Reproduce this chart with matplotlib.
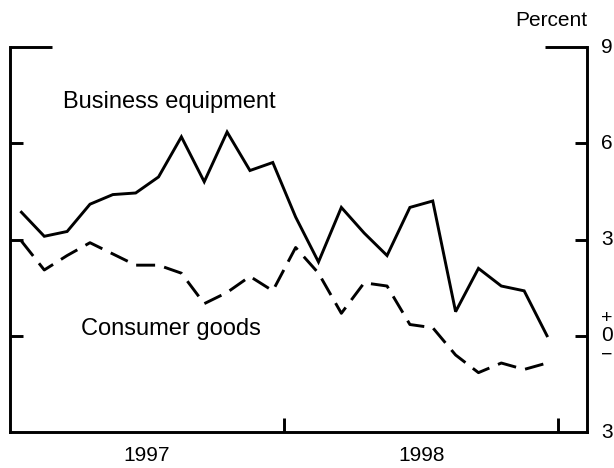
import matplotlib
matplotlib.use("Agg")
import matplotlib.pyplot as plt
import matplotlib.transforms as mtransforms

plt.rcParams["font.family"] = ["Liberation Sans", "DejaVu Sans"]

# monthly series, Jan 1997 .. Dec 1998 (percent)
months = list(range(24))
business = [3.85, 3.1, 3.25, 4.1, 4.4, 4.45, 4.95, 6.2, 4.8, 6.35, 5.15, 5.4,
            3.7, 2.3, 4.0, 3.2, 2.5, 4.0, 4.2, 0.75, 2.1, 1.55, 1.4, 0.0]
consumer = [2.95, 2.05, 2.5, 2.9, 2.55, 2.2, 2.2, 1.95, 1.0, 1.35, 1.85, 1.4,
            2.75, 1.95, 0.7, 1.65, 1.55, 0.35, 0.25, -0.6, -1.15, -0.85, -1.05, -0.85]
years = ["1997", "1998"]
year_centers = [5.5, 17.5]
year_bounds = [11.5, 23.5]
right_ticks = [9, 6, 3, 0, -3]
right_labels = ["9", "6", "3", "0", "3"]

LW = 2.1

fig = plt.figure(figsize=(6.14, 4.68), dpi=100)
ax = fig.add_axes([10 / 614, 36 / 468, 577 / 614, 385 / 468])

ax.plot(months, business, color="black", lw=LW, solid_joinstyle="miter")
ax.plot(months, consumer, color="black", lw=LW, dashes=(6.5, 3.2))

ax.set_xlim(-0.5, 24.75)
ax.set_ylim(-3, 9)

for s in ["left", "right", "bottom"]:
    ax.spines[s].set_linewidth(LW)
ax.spines["top"].set_visible(False)

ax.set_yticks([0, 3, 6])
ax.set_yticks([9], minor=True)
ax.tick_params(axis="y", which="major", left=True, right=True, direction="in",
               length=9, width=LW, labelleft=False, labelright=False)
ax.tick_params(axis="y", which="minor", left=True, right=True, direction="in",
               length=30, width=LW, labelleft=False, labelright=False)

ax.set_xticks(year_bounds)
ax.set_xticklabels([])
ax.set_xticks(year_centers, minor=True)
ax.set_xticklabels(years, minor=True)
ax.tick_params(axis="x", which="major", direction="in", length=10, width=LW)
ax.tick_params(axis="x", which="minor", length=0, pad=10, labelsize=15)

tr = mtransforms.blended_transform_factory(ax.transAxes, ax.transData)
for v, lab in zip(right_ticks, right_labels):
    ax.text(1.025, v, lab, transform=tr, ha="left", va="center", fontsize=15,
            clip_on=False)
# the "+ / −" marks stacked around the zero label
off = mtransforms.offset_copy(tr, fig=fig, x=0, y=17, units="dots")
ax.text(1.025, 0, "+", transform=off, ha="left", va="center", fontsize=14)
off = mtransforms.offset_copy(tr, fig=fig, x=0, y=-19, units="dots")
ax.text(1.025, 0, "\u2212", transform=off, ha="left", va="center", fontsize=14)

ax.text(1.0, 1.045, "Percent", transform=ax.transAxes, ha="right", va="bottom",
        fontsize=15)

ax.text(1.8, 7.3, "Business equipment", ha="left", va="center", fontsize=17)
ax.text(2.6, 0.22, "Consumer goods", ha="left", va="center", fontsize=17)

fig.savefig("out.png", dpi=100)
